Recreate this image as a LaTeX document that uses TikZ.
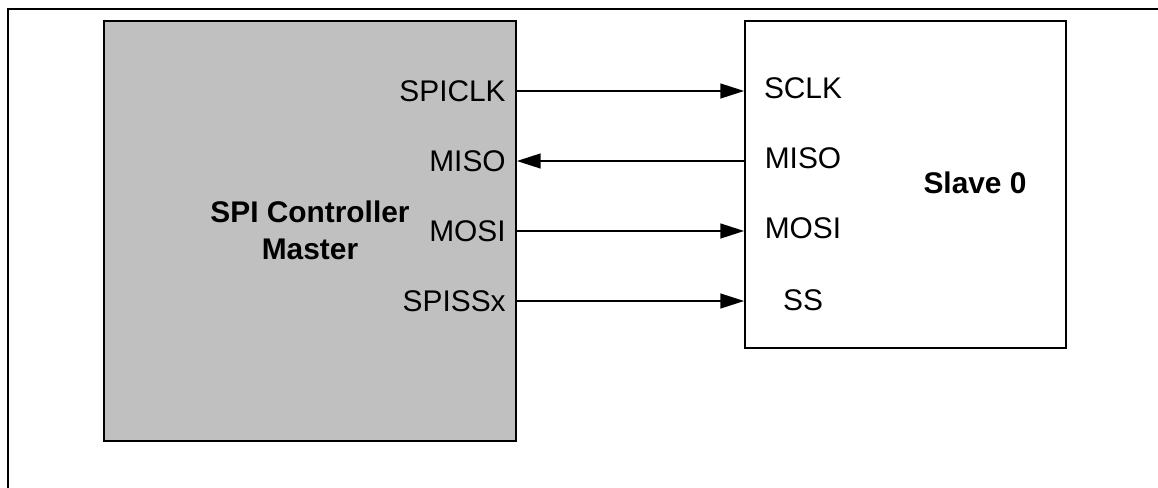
\documentclass[tikz,border=0pt]{standalone}
\usepackage{fontspec}
\setmainfont{Liberation Sans}
\usetikzlibrary{arrows.meta, positioning}
\definecolor{masterfill}{HTML}{C0C0C0}

\begin{document}
\begin{tikzpicture}[
  x=0.02cm, y=-0.02cm,
  block/.style={draw, line width=1.1pt, inner sep=0pt},
  masterbox/.style={block, fill=masterfill, minimum width=8.24cm, minimum height=8.4cm},
  slavebox/.style={block, fill=white, minimum width=6.42cm, minimum height=6.54cm},
  sig/.style={inner sep=0pt, font=\fontsize{17}{21}\selectfont},
  title/.style={inner sep=0pt, align=center, font=\fontsize{17}{21}\selectfont\bfseries},
  sigarr/.style={-{Triangle[length=13.5pt, width=8.5pt]}, line width=0.8pt},
]
  \useasboundingbox (0,0) rectangle (1158,487);
  \clip (0,0) rectangle (1158,487);

  % Frame
  \draw[line width=1.5pt] (8,510) |- (1180,9);

  % Nodes
  \node[masterbox] (master) at (310,231) {};
  \node[slavebox] (slave) at (905.5,184.5) {};
  \node[title] (mastername) at (310,230) {SPI Controller\\Master};
  \node[title] (slavename) at (975,183) {Slave 0};

  \node[sig, anchor=east] (mclk) at (506,91) {SPICLK};
  \node[sig, anchor=east] (mmiso) at (506,161) {MISO};
  \node[sig, anchor=east] (mmosi) at (506,231) {MOSI};
  \node[sig, anchor=east] (mss) at (506,301) {SPISSx};

  \node[sig] (sclk) at (803,88) {SCLK};
  \node[sig] (smiso) at (803,158) {MISO};
  \node[sig] (smosi) at (803,228) {MOSI};
  \node[sig] (sss) at (803,300) {SS};

  % Arrows
  \draw[sigarr] (master.east |- mclk) -- (slave.west |- mclk);
  \draw[sigarr] (slave.west |- mmiso) -- (master.east |- mmiso);
  \draw[sigarr] (master.east |- mmosi) -- (slave.west |- mmosi);
  \draw[sigarr] (master.east |- mss) -- (slave.west |- mss);

\end{tikzpicture}
\end{document}
